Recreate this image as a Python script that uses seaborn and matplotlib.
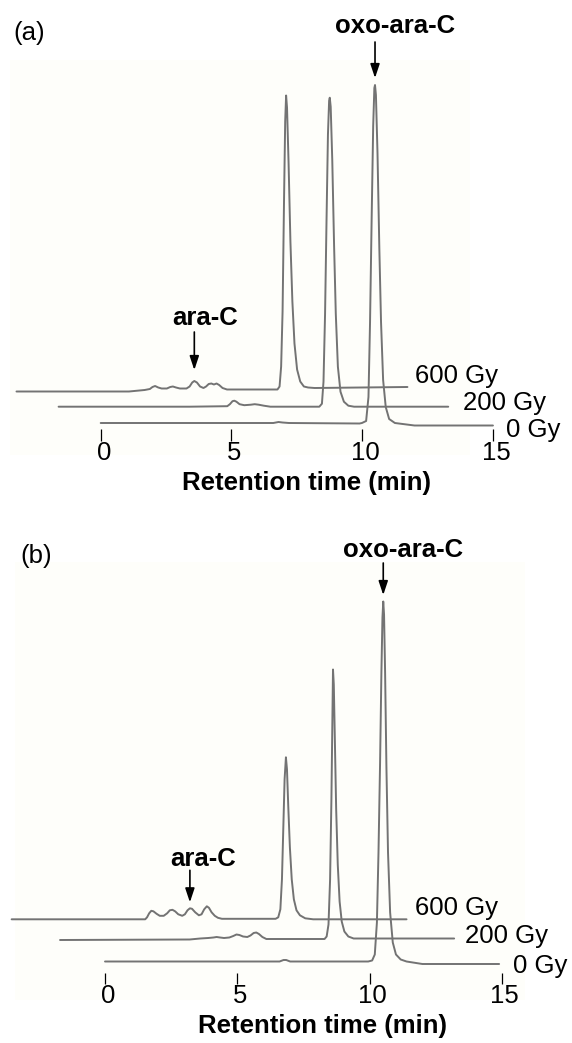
import numpy as np
import pandas as pd
import matplotlib
matplotlib.use("Agg")
import matplotlib.pyplot as plt
from matplotlib.transforms import ScaledTranslation
from matplotlib.patches import Rectangle
import seaborn as sns

# ---------------- chromatogram traces (own time axis in min, signal in a.u.) ----------------
# panel (a)
a0_t = [0.0, 3.0, 6.6, 6.8, 6.95, 7.2, 9.9, 9.99, 10.15, 10.24, 10.30, 10.36, 10.42, 10.465,
        10.49, 10.525, 10.585, 10.655, 10.72, 10.80, 10.90, 11.03, 11.25, 12.0, 15.0]
a0_s = [1, 1, 1, 2, 1.5, 1, 0.5, 1, 3, 27, 102, 203, 298, 336,
        339, 329, 271, 176, 102, 44, 17, 5, 1, -1.5, -1.5]

a2_t = [0.0, 5.0, 6.45, 6.55, 6.65, 6.72, 6.8, 6.92, 7.1, 7.35, 7.5, 7.65, 7.85, 8.1, 9.97,
        10.07, 10.13, 10.19, 10.245, 10.30, 10.345, 10.37, 10.405, 10.465, 10.535, 10.60, 10.68,
        10.78, 10.91, 11.08, 11.3, 14.9]
a2_s = [0, 0, 0.5, 2.5, 5.5, 6, 5, 2.5, 1.5, 2, 2.5, 2, 1, 0, 0,
        3, 25, 93, 185, 272, 306, 309, 300, 247, 161, 93, 40,
        15, 5, 1, 0, 0]

a6_t = [0.0, 4.3, 4.9, 5.1, 5.2, 5.3, 5.42, 5.55, 5.75, 5.88, 5.98, 6.1, 6.25, 6.5, 6.62, 6.72,
        6.8, 6.9, 7.02, 7.15, 7.25, 7.35, 7.45, 7.55, 7.65, 7.75, 7.88, 8.05, 9.98, 10.06, 10.12,
        10.175, 10.23, 10.275, 10.31, 10.345, 10.405, 10.475, 10.55, 10.63, 10.73, 10.85, 10.99,
        11.15, 11.4, 14.95]
a6_s = [0, 0, 1.5, 2.5, 4.5, 5.5, 4, 3, 3, 4.5, 5, 4, 3, 3, 5, 9,
        10.5, 9, 5, 3.5, 5, 7.5, 8, 7, 8, 6.5, 3.5, 2, 2, 5, 25,
        80, 190, 270, 296, 284, 228, 150, 90, 48, 22, 10, 5,
        4, 3.5, 4.5]

# panel (b)
b0_t = [0.0, 6.6, 6.75, 6.85, 7.0, 9.95, 10.1, 10.2, 10.28, 10.34, 10.40, 10.45, 10.49, 10.52,
        10.55, 10.59, 10.64, 10.70, 10.78, 10.88, 11.0, 11.18, 11.4, 12.0, 14.9]
b0_s = [1, 1, 2.5, 2.5, 1, 1, 2, 8, 40, 110, 200, 290, 345, 361,
        348, 290, 195, 110, 50, 20, 8, 3, 1, -1.5, -1.5]

b2_t = [0.0, 4.9, 5.3, 5.6, 5.8, 5.92, 6.05, 6.2, 6.4, 6.55, 6.67, 6.78, 6.92, 7.08, 7.2, 7.32,
        7.42, 7.52, 7.65, 7.8, 10.0, 10.08, 10.15, 10.21, 10.26, 10.29, 10.32, 10.35, 10.39,
        10.44, 10.5, 10.57, 10.65, 10.75, 10.9, 11.1, 14.9]
b2_s = [-0.5, 0, 1, 1.5, 2, 2.5, 2, 1.5, 2, 3.5, 5, 4.5, 3, 2.5, 4, 6.5,
        7, 5.5, 2.5, 0.5, 0.5, 3, 15, 60, 140, 205, 270, 255, 200,
        130, 75, 38, 18, 8, 3, 1, 1]

b6_t = [0.0, 5.05, 5.12, 5.2, 5.28, 5.36, 5.48, 5.6, 5.75, 5.88, 5.98, 6.08, 6.18, 6.3, 6.45,
        6.55, 6.65, 6.74, 6.82, 6.94, 7.08, 7.18, 7.28, 7.38, 7.46, 7.56, 7.68, 7.8, 7.95, 9.98,
        10.08, 10.16, 10.22, 10.27, 10.32, 10.37, 10.41, 10.46, 10.52, 10.59, 10.67, 10.77, 10.9,
        11.1, 11.4, 14.93]
b6_s = [0, 0, 2, 6, 8.5, 8, 5.5, 3.5, 3.5, 6, 9, 9.5, 8, 5, 3.5,
        5, 9, 11, 10.5, 7, 4, 5, 10, 13, 11.5, 7, 3.5, 1.5, 0.5, 0.5,
        2, 10, 40, 90, 140, 162, 150, 112, 72, 40, 20, 9, 4,
        1, 0, 0]

doses = ["600 Gy", "200 Gy", "0 Gy"]
ara_c_rt = {"a": 6.80, "b": 6.74}          # ara-C retention in the 600 Gy run
x_ticks = [0, 5, 10, 15]

# ---------------- layout (pixels on a 572 x 1043 canvas) ----------------
W, H, DPI = 572, 1043, 100
panels = {
    "a": dict(top=0, bottom=520, x0=100.7, ppm=26.15, ybase=424.0, spine=441.0, tick_len=12.5,
              shift={"0 Gy": (0.0, 0.0), "200 Gy": (-1.61, 17.3), "600 Gy": (-3.22, 32.5)},
              traces={"0 Gy": (a0_t, a0_s), "200 Gy": (a2_t, a2_s), "600 Gy": (a6_t, a6_s)},
              tag=(13, 40), oxo=(335, 33), oxo_gap=7, oxo_len=36,
              ara=(172, 325), ara_gap=11, ara_len=38,
              xlab=(307, 490),
              dose_lab={"600 Gy": (415, 382.5), "200 Gy": (463, 410), "0 Gy": (506, 436.5)},
              cream=(10, 60, 470, 455)),
    "b": dict(top=520, bottom=1043, x0=105.0, ppm=26.45, ybase=962.5, spine=984.0, tick_len=11.5,
              shift={"0 Gy": (0.0, 0.0), "200 Gy": (-1.70, 23.0), "600 Gy": (-3.53, 43.2)},
              traces={"0 Gy": (b0_t, b0_s), "200 Gy": (b2_t, b2_s), "600 Gy": (b6_t, b6_s)},
              tag=(20, 563), oxo=(342.7, 557), oxo_gap=6.5, oxo_len=32,
              ara=(170, 866), ara_gap=6, ara_len=32,
              xlab=(322, 1033),
              dose_lab={"600 Gy": (415, 915), "200 Gy": (465, 943.3), "0 Gy": (513, 972.7)},
              cream=(15, 562, 525, 1000)),
}

sns.set_style("white")
plt.rcParams["font.family"] = ["Liberation Sans", "DejaVu Sans"]
plt.rcParams["text.color"] = "black"

FS = 18.5
TRACE_COLOR = "#737373"

fig = plt.figure(figsize=(W / DPI, H / DPI), dpi=DPI)
fig.patch.set_facecolor("white")

for key, p in panels.items():
    ax = fig.add_axes([0, 1 - p["bottom"] / H, 1, (p["bottom"] - p["top"]) / H])
    ax.patch.set_alpha(0)

    def px(xp, yp, p=p):
        return (xp - p["x0"]) / p["ppm"], p["ybase"] - yp

    ax.set_xlim(px(0, 0)[0], px(W, 0)[0])
    ax.set_ylim(p["ybase"] - p["bottom"], p["ybase"] - p["top"])

    # faint cream tint of the chromatogram area
    cx0, cy0, cx1, cy1 = p["cream"]
    (ux0, uy1), (ux1, uy0) = px(cx0, cy0), px(cx1, cy1)
    ax.add_patch(Rectangle((ux0, uy0), ux1 - ux0, uy1 - uy0, facecolor="#fefefa",
                           edgecolor="none", zorder=-5))

    # stacked traces, each shifted back and up
    rows = []
    for dose in doses:
        t, s = p["traces"][dose]
        dx, dy = p["shift"][dose]
        rows.append(pd.DataFrame({"time": np.asarray(t) + dx,
                                  "signal": np.asarray(s) + dy,
                                  "dose": dose}))
    df = pd.concat(rows, ignore_index=True)
    sns.lineplot(data=df, x="time", y="signal", hue="dose", units="dose",
                 palette={d: TRACE_COLOR for d in doses}, estimator=None, sort=False,
                 legend=False, lw=1.4, ax=ax)

    # axis: bare ticks only
    for side in ["top", "right", "left", "bottom"]:
        ax.spines[side].set_visible(False)
    ax.spines["bottom"].set_position(("data", p["ybase"] - p["spine"]))
    ax.set_yticks([])
    ax.set_xticks(x_ticks)
    ax.set_xticklabels([str(v) for v in x_ticks])
    ax.tick_params(axis="x", bottom=True, direction="in", length=p["tick_len"] * 72 / DPI,
                   width=0.9, color="black", labelsize=FS, pad=0, labelcolor="black")
    shift_tr = ScaledTranslation(3 / DPI, 0, fig.dpi_scale_trans)
    for lab in ax.get_xticklabels():
        lab.set_transform(lab.get_transform() + shift_tr)
    ax.set_xlabel("")
    ax.set_ylabel("")

    ax.text(*px(*p["xlab"]), "Retention time (min)", ha="center", va="baseline",
            fontsize=FS, fontweight="bold", color="black")
    ax.text(*px(*p["tag"]), f"({key})", ha="left", va="baseline", fontsize=FS, color="black")

    for dose, (lx, ly) in p["dose_lab"].items():
        ax.text(*px(lx, ly), dose, ha="left", va="baseline", fontsize=FS, color="black")

    # oxo-ara-C: arrow onto the 0 Gy main peak
    t0, s0 = np.asarray(p["traces"]["0 Gy"][0]), np.asarray(p["traces"]["0 Gy"][1])
    i = int(np.argmax(s0))
    tip = (t0[i], s0[i] + p["oxo_gap"])
    ax.annotate("", xy=tip, xytext=(tip[0], tip[1] + p["oxo_len"]),
                arrowprops=dict(arrowstyle="-|>,head_length=0.6,head_width=0.2",
                                color="black", lw=1.2, mutation_scale=14,
                                shrinkA=0, shrinkB=0))
    ax.text(*px(*p["oxo"]), "oxo-ara-C", ha="left", va="baseline", fontsize=FS,
            fontweight="bold", color="black")

    # ara-C: arrow onto the small peak of the 600 Gy run
    t6, s6 = p["traces"]["600 Gy"]
    dx6, dy6 = p["shift"]["600 Gy"]
    rt = ara_c_rt[key]
    s_rt = float(np.interp(rt, t6, s6))
    tip = (rt + dx6, s_rt + dy6 + p["ara_gap"])
    ax.annotate("", xy=tip, xytext=(tip[0], tip[1] + p["ara_len"]),
                arrowprops=dict(arrowstyle="-|>,head_length=0.6,head_width=0.2",
                                color="black", lw=1.2, mutation_scale=14,
                                shrinkA=0, shrinkB=0))
    ax.text(*px(*p["ara"]), "ara-C", ha="left", va="baseline", fontsize=FS,
            fontweight="bold", color="black")

fig.savefig("out.png", dpi=DPI, facecolor="white")
